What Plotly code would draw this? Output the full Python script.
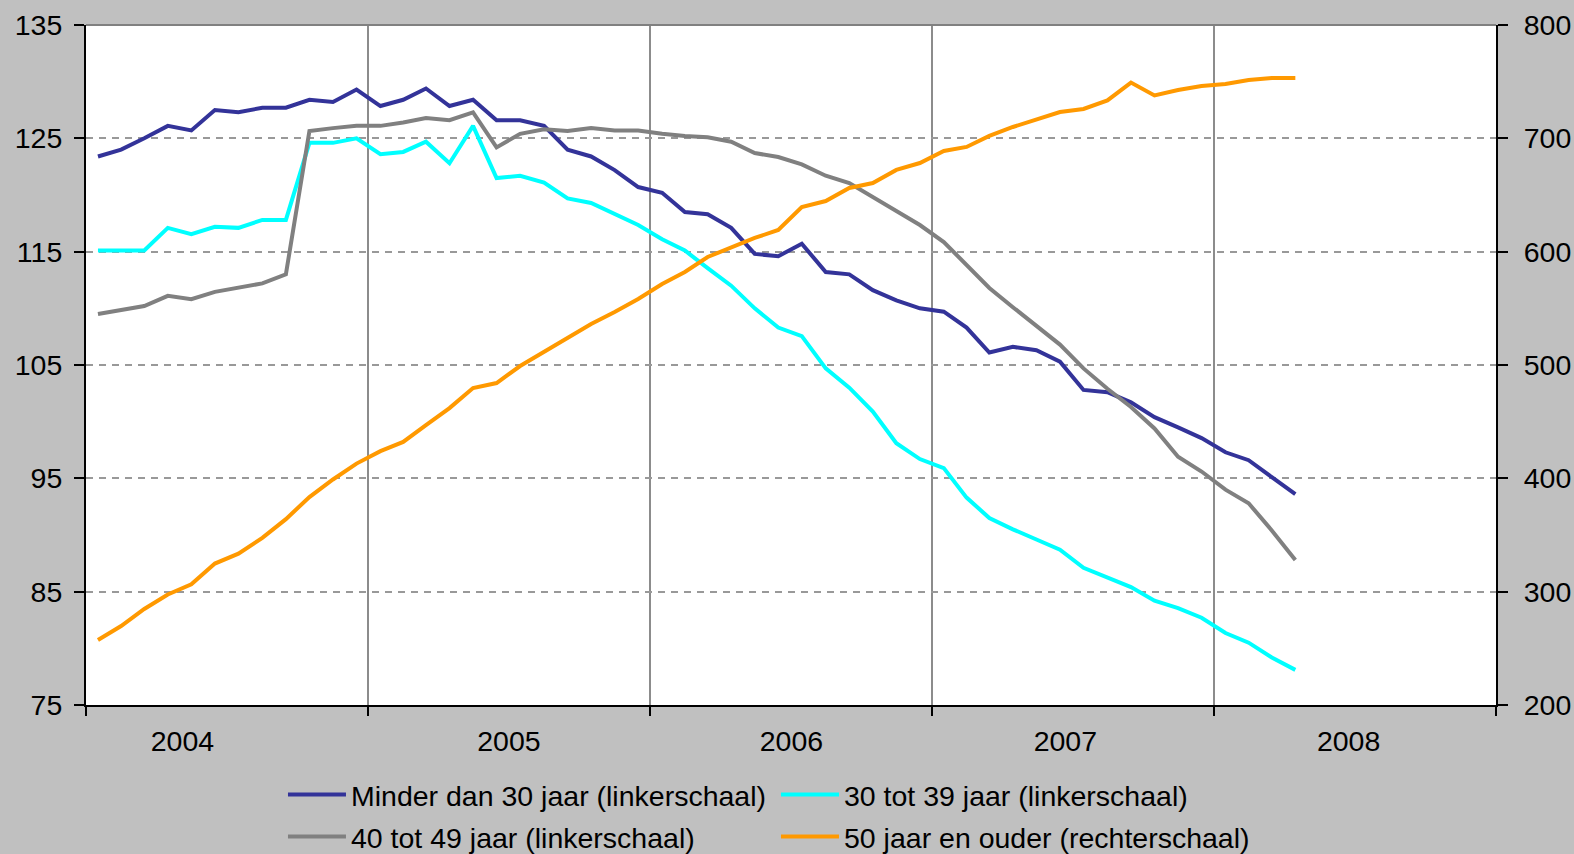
import plotly.graph_objects as go

months = [f"{y}-{m:02d}" for y in range(2004, 2009) for m in range(1, 13)][:52]

minder_30 = [123.4, 124.0, 125.0, 126.1, 125.7, 127.5, 127.3, 127.7, 127.7, 128.4, 128.2, 129.3,
             127.85, 128.4, 129.4, 127.85, 128.4, 126.6, 126.6, 126.1, 124.0, 123.4, 122.2, 120.7,
             120.2, 118.5, 118.3, 117.1, 114.8, 114.6, 115.7, 113.2, 113.0, 111.6, 110.7, 110.0,
             109.7, 108.3, 106.1, 106.6, 106.3, 105.3, 102.8, 102.6, 101.7, 100.4, 99.5, 98.55,
             97.3, 96.6, 95.1, 93.6]
tot_39 = [115.1, 115.1, 115.1, 117.1, 116.55, 117.2, 117.1, 117.8, 117.8, 124.6, 124.6, 125.0,
          123.6, 123.8, 124.7, 122.8, 126.1, 121.5, 121.7, 121.1, 119.7, 119.3, 118.3, 117.35,
          116.1, 115.1, 113.55, 112.0, 110.0, 108.3, 107.55, 104.7, 103.0, 100.9, 98.1, 96.7,
          95.9, 93.3, 91.5, 90.5, 89.6, 88.7, 87.1, 86.2, 85.4, 84.2, 83.55, 82.7,
          81.35, 80.5, 79.2, 78.1]
tot_49 = [109.5, 109.85, 110.2, 111.1, 110.8, 111.45, 111.8, 112.2, 113.0, 125.65, 125.9, 126.1,
          126.1, 126.4, 126.8, 126.6, 127.3, 124.2, 125.4, 125.8, 125.65, 125.9, 125.7, 125.7,
          125.4, 125.2, 125.1, 124.7, 123.7, 123.35, 122.7, 121.7, 121.05, 119.8, 118.5, 117.35,
          115.85, 113.8, 111.8, 110.1, 108.5, 106.8, 104.7, 102.9, 101.3, 99.4, 96.9, 95.6,
          94.0, 92.8, 90.4, 87.8]
ouder_50 = [257.4, 269.7, 284.7, 297.5, 306.5, 324.8, 333.5, 347.5, 364.0, 383.5, 399.0, 413.0,
            424.0, 432.1, 447.0, 462.0, 479.7, 484.1, 499.1, 511.5, 523.8, 536.2, 546.8, 558.2,
            571.5, 582.1, 595.3, 604.1, 612.1, 619.1, 639.4, 644.7, 656.2, 660.6, 672.1, 678.2,
            688.8, 692.4, 702.1, 710.0, 717.0, 723.2, 725.9, 733.5, 749.2, 737.8, 742.6, 746.2,
            747.9, 751.5, 753.2, 753.2]

names = ["Minder dan 30 jaar (linkerschaal)", "30 tot 39 jaar (linkerschaal)",
         "40 tot 49 jaar (linkerschaal)", "50 jaar en ouder (rechterschaal)"]
colors = ["#333399", "#00FFFF", "#808080", "#FF9900"]
legend_rows = ["legend", "legend", "legend2", "legend2"]
left_ticks = [75, 85, 95, 105, 115, 125, 135]
right_ticks = [200, 300, 400, 500, 600, 700, 800]
year_labels = ["2004", "2005", "2006", "2007", "2008"]
year_label_dates = ["2004-05-05", "2005-07-02", "2006-07-03", "2007-06-23", "2008-06-24"]

FONT = "Arial, Liberation Sans, sans-serif"
FS = 28.5
fig = go.Figure()
for vals, name, col, ax, lg in zip([minder_30, tot_39, tot_49, ouder_50], names, colors,
                                   ["y", "y", "y", "y2"], legend_rows):
    fig.add_trace(go.Scatter(x=months, y=vals, name=name, mode="lines", yaxis=ax, legend=lg,
                             xperiod="M1", xperiodalignment="middle",
                             line=dict(color=col, width=4)))

leg_common = dict(orientation="h", xanchor="left", yanchor="middle",
                  bgcolor="rgba(0,0,0,0)", font=dict(size=FS), itemwidth=58,
                  entrywidth=420, entrywidthmode="pixels", traceorder="normal")

fig.update_layout(
    width=1574, height=854, autosize=False,
    margin=dict(l=86, r=78, t=25, b=149, autoexpand=False),
    paper_bgcolor="#C0C0C0", plot_bgcolor="#FFFFFF",
    font=dict(family=FONT, size=FS, color="black"),
    showlegend=True,
    legend=dict(x=0.1397, y=-0.1324, **leg_common),
    legend2=dict(x=0.1397, y=-0.1942, **leg_common),
    xaxis=dict(type="date", range=["2004-01-01", "2009-01-01"], automargin=False,
               tickvals=year_label_dates, ticktext=year_labels, ticks="",
               showgrid=False, showline=True, linecolor="black", linewidth=2,
               ticklabelstandoff=10, tickfont=dict(size=FS),
               minor=dict(dtick="M12", tick0="2004-01-01", ticks="outside", ticklen=9,
                          tickwidth=2, tickcolor="black", showgrid=True,
                          gridcolor="#8C8C8C", gridwidth=2)),
    yaxis=dict(range=[75, 135], tickvals=left_ticks, ticks="outside", ticklen=10, tickwidth=2,
               tickcolor="black", showline=True, linecolor="black", linewidth=2,
               showgrid=True, gridcolor="#999999", gridwidth=1.5, griddash="7px,6px",
               zeroline=False, ticklabelstandoff=6, tickfont=dict(size=FS), automargin=False),
    yaxis2=dict(range=[200, 800], tickvals=right_ticks, overlaying="y", side="right",
                ticks="outside", ticklen=10, tickwidth=2, tickcolor="black", showline=True,
                linecolor="black", linewidth=2, showgrid=False, zeroline=False,
                ticklabelstandoff=10, tickfont=dict(size=FS), automargin=False),
    shapes=[dict(type="line", xref="paper", yref="paper", x0=0, x1=1, y0=1, y1=1,
                 line=dict(color="#808080", width=2))],
)

fig.write_html("out.html", config={"displayModeBar": False, "responsive": False},
               post_script="document.body.style.margin='0';document.body.style.overflow='hidden';")
